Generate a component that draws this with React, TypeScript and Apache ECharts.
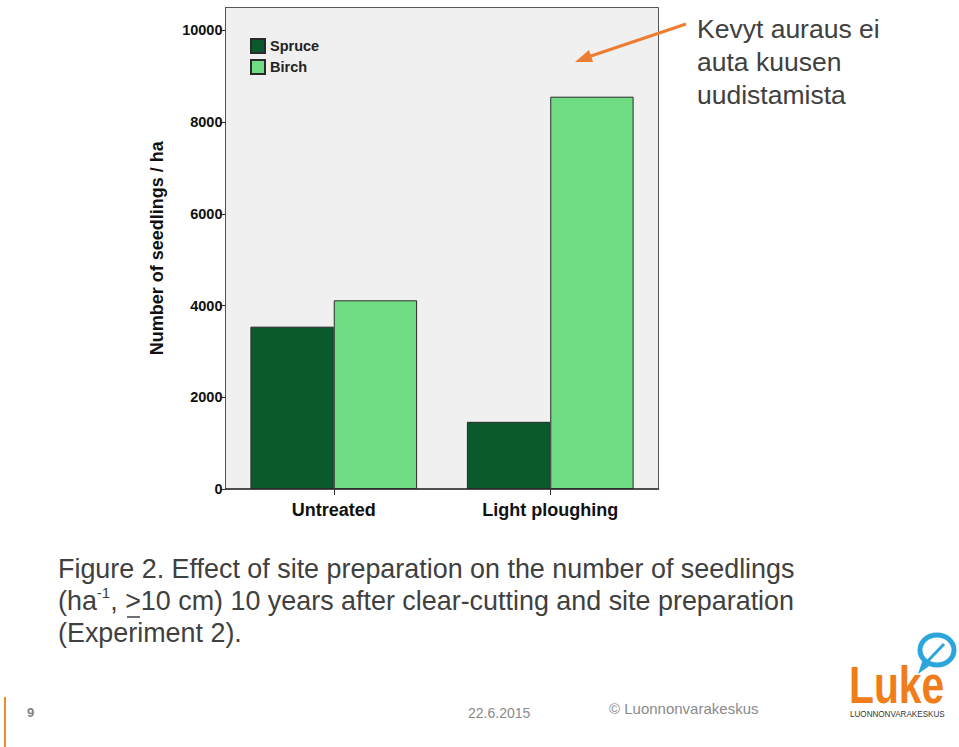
import React, { useEffect, useRef } from "react";
import * as echarts from "echarts";

const categories = ["Untreated", "Light ploughing"];
const spruceValues = [3540, 1465];
const birchValues = [4115, 8555];
const yTicks = [0, 2000, 4000, 6000, 8000, 10000];
const seriesNames = ["Spruce", "Birch"];

export default function App() {
  const ref = useRef<HTMLDivElement>(null);
  useEffect(() => {
    if (!ref.current) return;
    const chart = echarts.init(ref.current, undefined, { renderer: "svg" });
    const capFont = "Arial, 'Liberation Sans', sans-serif";
    chart.setOption({
      animation: false,
      backgroundColor: "#ffffff",
      grid: {
        left: 225.5,
        right: 300.5,
        top: 7.5,
        bottom: 258,
        show: true,
        backgroundColor: "#f0f0f0",
        borderColor: "#555555",
        borderWidth: 1,
      },
      legend: {
        orient: "vertical",
        left: 250,
        top: 38,
        padding: 0,
        icon: "rect",
        itemWidth: 14,
        itemHeight: 14,
        itemGap: 5,
        data: seriesNames,
        textStyle: { fontFamily: capFont, fontWeight: "bold", fontSize: 14.5, color: "#222" },
      },
      xAxis: {
        type: "category",
        data: categories,
        axisLine: { lineStyle: { color: "#333", width: 1.5 } },
        axisTick: { show: true, alignWithLabel: true, length: 6, lineStyle: { color: "#333" } },
        axisLabel: { fontFamily: capFont, fontWeight: "bold", fontSize: 18, color: "#111", margin: 12 },
      },
      yAxis: {
        type: "value",
        min: 0,
        max: 10500,
        interval: 2000,
        name: "Number of seedlings / ha",
        nameLocation: "middle",
        nameGap: 60,
        nameTextStyle: { fontFamily: capFont, fontWeight: "bold", fontSize: 18, color: "#111" },
        splitLine: { show: false },
        axisLine: { show: true, lineStyle: { color: "#555" } },
        axisTick: { show: true, length: 5, customValues: yTicks, lineStyle: { color: "#333" } },
        axisLabel: {
          customValues: yTicks,
          formatter: (v: number) => String(v),
          fontFamily: capFont,
          fontWeight: "bold",
          fontSize: 14.5,
          color: "#111",
          margin: 3,
        },
      },
      series: [
        {
          name: seriesNames[0],
          type: "bar",
          data: spruceValues,
          barGap: "0%",
          barCategoryGap: "23%",
          itemStyle: { color: "#0b5a2e", borderColor: "#2a2a2a", borderWidth: 1 },
        },
        {
          name: seriesNames[1],
          type: "bar",
          data: birchValues,
          itemStyle: { color: "#70dc84", borderColor: "#2a2a2a", borderWidth: 1 },
        },
      ],
      graphic: [
        {
          type: "text",
          left: 697,
          top: 12,
          style: {
            text: "Kevyt auraus ei\nauta kuusen\nuudistamista",
            font: "26.5px Arial, 'Liberation Sans', sans-serif",
            lineHeight: 33,
            fill: "#404040",
          },
        },
        {
          type: "line",
          shape: { x1: 686, y1: 24, x2: 585, y2: 58 },
          style: { stroke: "#ED7D31", lineWidth: 3 },
        },
        {
          type: "polygon",
          shape: { points: [[575, 62], [589, 50], [593, 62]] },
          style: { fill: "#ED7D31" },
        },
        {
          type: "text",
          left: 58,
          top: 553,
          style: {
            text:
              "Figure 2. Effect of site preparation on the number of seedlings\n{n|(ha}{s|-1}{n|, >10 cm) 10 years after clear-cutting and site preparation}\n(Experiment 2).",
            font: "26.9px Arial, 'Liberation Sans', sans-serif",
            lineHeight: 32,
            fill: "#404040",
            rich: {
              n: { fontSize: 26.9, fontFamily: capFont, fill: "#404040", lineHeight: 32 },
              s: { fontSize: 15, fontFamily: capFont, fill: "#404040", verticalAlign: "top", lineHeight: 32, padding: [0, 0, 12, 0] },
            },
          },
        },
        {
          type: "line",
          shape: { x1: 127, y1: 617, x2: 140, y2: 617 },
          style: { stroke: "#404040", lineWidth: 1.5 },
        },
        {
          type: "line",
          shape: { x1: 5, y1: 697, x2: 5, y2: 747 },
          style: { stroke: "#F08C28", lineWidth: 2 },
        },
        {
          type: "text",
          left: 27,
          top: 706,
          style: { text: "9", font: "bold 13px Arial, 'Liberation Sans', sans-serif", fill: "#808080" },
        },
        {
          type: "text",
          left: 468,
          top: 706,
          style: { text: "22.6.2015", font: "14px Arial, 'Liberation Sans', sans-serif", fill: "#8a8a8a" },
        },
        {
          type: "text",
          left: 609,
          top: 701,
          style: { text: "© Luonnonvarakeskus", font: "15px Arial, 'Liberation Sans', sans-serif", fill: "#8a8a8a" },
        },
        {
          type: "ellipse",
          shape: { cx: 937, cy: 650, rx: 17, ry: 15 },
          style: { fill: "none", stroke: "#2aa6db", lineWidth: 5 },
        },
        {
          type: "polygon",
          shape: { points: [[918, 674], [923, 659], [932, 664]] },
          style: { fill: "#2aa6db" },
        },
        {
          type: "line",
          shape: { x1: 925, y1: 664, x2: 944, y2: 644 },
          style: { stroke: "#2aa6db", lineWidth: 3 },
        },
        {
          type: "text",
          x: 849,
          y: 660,
          scaleX: 0.8,
          style: { text: "Luke", font: "bold 51px 'Liberation Sans', Arial, sans-serif", fill: "#f07d1a" },
        },
        {
          type: "text",
          x: 850,
          y: 709,
          scaleX: 0.9,
          style: { text: "LUONNONVARAKESKUS", font: "9px 'Liberation Sans', Arial, sans-serif", fill: "#333333" },
        },
      ],
    });
    return () => chart.dispose();
  }, []);
  return <div ref={ref} style={{ width: 959, height: 747, position: "absolute", left: 0, top: 0 }} />;
}
